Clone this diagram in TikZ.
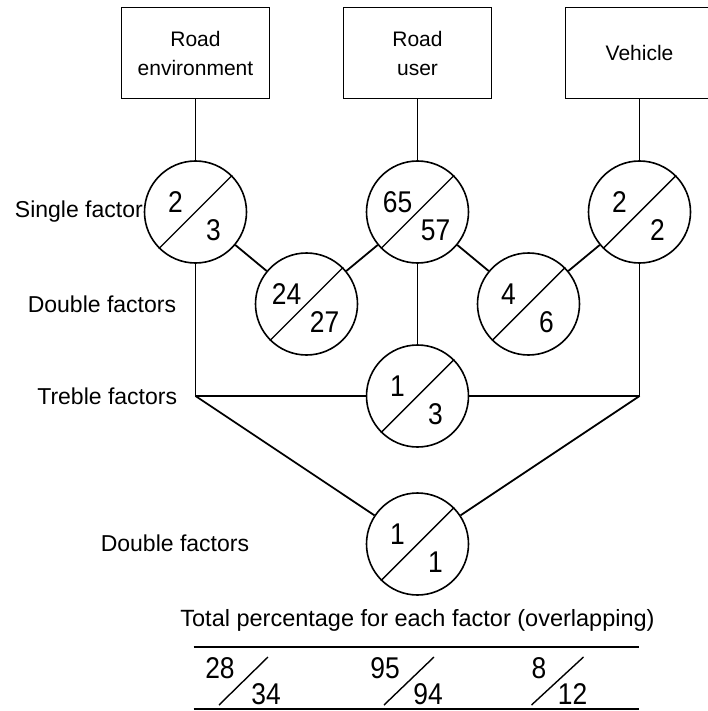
\documentclass[tikz,border=0pt]{standalone}
\usepackage{fontspec}
\setmainfont{Liberation Sans}
\newfontfamily\numfont[FakeStretch=0.88]{Liberation Sans}
\usetikzlibrary{positioning}

\begin{document}
\begin{tikzpicture}[x=1pt, y=-1pt, line width=1.8pt,
			factor/.style={circle, draw, line width=1.6pt, minimum size=102pt, inner sep=0pt},
			cause/.style={rectangle, draw, line width=1.6pt, minimum width=148pt, minimum height=91pt,
				align=center, font=\fontsize{21}{29}\selectfont},
			level/.style={font=\fontsize{23}{28}\selectfont, inner sep=0pt}]
			\useasboundingbox (0,0) rectangle (707,711);

			% the three causes
			\node[cause] (renv)  at (195.5,53) {Road\\environment};
			\node[cause] (ruser) at (417.5,53) {Road\\user};
			\node[cause] (veh)   at (639.5,53) {Vehicle};

			% factor circles
			\node[factor] (s1) at (195.5,212) {};
			\node[factor] (s2) at (417.5,212) {};
			\node[factor] (s3) at (639.5,212) {};
			\node[factor] (d1) at (306.5,304) {};
			\node[factor] (d2) at (528.5,304) {};
			\node[factor] (t)  at (417.5,396) {};
			\node[factor] (b)  at (417.5,544) {};
			\coordinate (tl) at (195.5,396);
			\coordinate (tr) at (639.5,396);

			\draw (renv) -- (s1);
			\draw (ruser) -- (s2);
			\draw (veh) -- (s3);
			\draw (s1) -- (d1) -- (s2) -- (d2) -- (s3);
			\draw (s2) -- (t);
			\draw (s1) -- (tl) -- (t);
			\draw (s3) -- (tr) -- (t);
			\draw (tl) -- (b) -- (tr);

			\foreach \n in {s1,s2,s3,d1,d2,t,b}
				\draw[line width=1.4pt] (\n.225) -- (\n.45);

			\begin{scope}[nodes={font=\numfont\fontsize{30}{32}\selectfont, inner sep=0pt}]
				\foreach \n/\u/\l in {s1/2/3, s2/65/57, s3/2/2, d1/24/27, d2/4/6, t/1/3, b/1/1} {
					\node[xshift=-20pt, yshift=10pt] at (\n) {\u};
					\node[xshift=18pt, yshift=-18pt] at (\n) {\l};
				}
			\end{scope}

			% row labels
			\node[level, left=0pt of s1] {Single factor};
			\node[level, anchor=east] at (177,304) {Double factors};
			\node[level, anchor=east] at (178,396) {Treble factors};
			\node[level, anchor=east] at (250,543) {Double factors};

			% totals
			\node[level, font=\fontsize{23.5}{28}\selectfont] (total) at (417.5,620)
				{Total percentage for each factor (overlapping)};
			\coordinate (ra) at (193.5,647);
			\coordinate (rb) at (638.5,647);
			\coordinate (rc) at (193.5,709);
			\coordinate (rd) at (638.5,709);
			\draw (ra) -- (rb);
			\draw (rc) -- (rd);

			\begin{scope}[nodes={font=\numfont\fontsize{30}{32}\selectfont, inner sep=0pt}]
				\node (re1) at (220,668) {28};
				\node (re2) at (266,694) {34};
				\node (ru1) at (385,668) {95};
				\node (ru2) at (428,694) {94};
				\node (ve1) at (539,668) {8};
				\node (ve2) at (572.5,694) {12};
			\end{scope}
			\draw[line width=1.4pt] (219,705) -- (268,657);
			\draw[line width=1.4pt] (384,705) -- (434,657);
			\draw[line width=1.4pt] (531.5,705) -- (583.5,657);

		\end{tikzpicture}
\end{document}
